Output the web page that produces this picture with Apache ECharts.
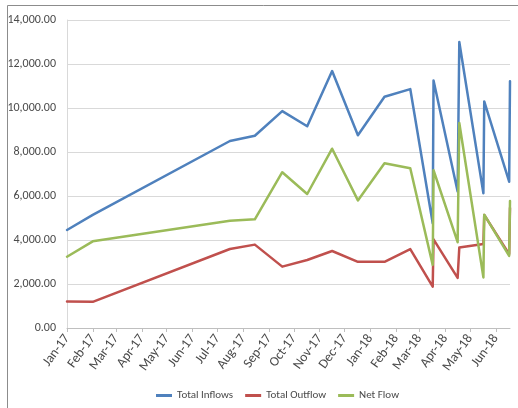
<!DOCTYPE html>
<html>
<head>
<meta charset="utf-8">
<script src="https://cdn.jsdelivr.net/npm/echarts@6/dist/echarts.min.js"></script>
<style>
  html, body { margin: 0; padding: 0; background: #ffffff; }
  #chart { width: 518px; height: 408px; }
</style>
</head>
<body>
<div id="chart"></div>
<script>
// Statement dates (one entry per reported balance)
var dates = [
  '2017-01-01', '2017-02-01', '2017-07-16', '2017-08-15', '2017-09-17',
  '2017-10-17', '2017-11-16', '2017-12-17', '2018-01-18', '2018-02-18',
  '2018-03-17', '2018-03-18', '2018-04-16', '2018-04-18', '2018-05-17',
  '2018-05-18', '2018-06-17', '2018-06-18'
];
var totalInflows = [
  4455, 5140, 8500, 8740, 9860, 9170, 11680, 8760, 10510, 10860,
  4760, 11250, 6200, 13000, 6120, 10300, 6650, 11220
];
var totalOutflow = [
  1200, 1190, 3590, 3790, 2790, 3090, 3500, 3010, 3010, 3590,
  1880, 4030, 2280, 3660, 3820, 5140, 3360, 5460
];
var netFlow = [
  3240, 3940, 4870, 4940, 7080, 6090, 8150, 5800, 7490, 7260,
  2870, 7170, 3900, 9320, 2300, 5150, 3280, 5770
];
// Month ticks on the date axis
var monthTicks = [
  '2017-01-01', '2017-02-01', '2017-03-01', '2017-04-01', '2017-05-01', '2017-06-01',
  '2017-07-01', '2017-08-01', '2017-09-01', '2017-10-01', '2017-11-01', '2017-12-01',
  '2018-01-01', '2018-02-01', '2018-03-01', '2018-04-01', '2018-05-01', '2018-06-01'
];
var monthLabels = [
  'Jan-17', 'Feb-17', 'Mar-17', 'Apr-17', 'May-17', 'Jun-17',
  'Jul-17', 'Aug-17', 'Sep-17', 'Oct-17', 'Nov-17', 'Dec-17',
  'Jan-18', 'Feb-18', 'Mar-18', 'Apr-18', 'May-18', 'Jun-18'
];
var yTicks = [0, 2000, 4000, 6000, 8000, 10000, 12000, 14000];

function ts(s) {
  var p = s.split('-');
  return Date.UTC(+p[0], +p[1] - 1, +p[2]);
}
var tickValues = monthTicks.map(ts);
var xs = dates.map(ts);
function pairs(vals) {
  return vals.map(function (v, i) { return [xs[i], v]; });
}

var FONT = "Carlito, 'Liberation Sans Narrow', 'Arial Narrow', 'Liberation Sans', sans-serif";
var TEXT = '#4a4a4a';

var chart = echarts.init(document.getElementById('chart'), null, { renderer: 'canvas' });
chart.setOption({
  animation: false,
  backgroundColor: '#ffffff',
  color: ['#4F81BD', '#C0504D', '#9BBB59'],
  graphic: [{
    type: 'rect',
    shape: { x: 7.5, y: 5.5, width: 520, height: 420 },
    style: { fill: 'none', stroke: '#8c8c8c', lineWidth: 1 },
    silent: true
  }],
  grid: {
    left: 67, right: 8, top: 20, bottom: 80,
    containLabel: false, outerBoundsMode: 'none'
  },
  legend: {
    top: 385,
    left: 151,
    icon: 'rect',
    itemWidth: 16,
    itemHeight: 3,
    itemGap: 12,
    textStyle: { fontFamily: FONT, fontSize: 11, color: TEXT },
    data: ['Total Inflows', 'Total Outflow', 'Net Flow']
  },
  xAxis: {
    type: 'value',
    min: tickValues[0],
    max: xs[xs.length - 1],
    splitLine: { show: false },
    axisLine: { show: true, lineStyle: { color: '#bfbfbf', width: 1 } },
    axisTick: {
      show: true, length: 4, inside: false,
      customValues: tickValues,
      lineStyle: { color: '#bfbfbf' }
    },
    axisLabel: {
      customValues: tickValues,
      rotate: 54,
      margin: 8,
      fontFamily: FONT,
      fontSize: 13.5,
      color: TEXT,
      formatter: function (v) {
        var i = tickValues.indexOf(v);
        return i >= 0 ? monthLabels[i] : '';
      }
    }
  },
  yAxis: {
    type: 'value',
    min: yTicks[0],
    max: yTicks[yTicks.length - 1],
    interval: yTicks[1] - yTicks[0],
    axisLine: { show: true, lineStyle: { color: '#d9d9d9' } },
    axisTick: { show: false },
    splitLine: { show: true, lineStyle: { color: '#d9d9d9', width: 1 } },
    axisLabel: {
      margin: 11,
      fontFamily: FONT,
      fontSize: 12,
      color: TEXT,
      formatter: function (v) {
        return v.toLocaleString('en-US', { minimumFractionDigits: 2, maximumFractionDigits: 2 });
      }
    }
  },
  series: [
    { name: 'Total Inflows', data: pairs(totalInflows) },
    { name: 'Total Outflow', data: pairs(totalOutflow) },
    { name: 'Net Flow', data: pairs(netFlow) }
  ].map(function (s) {
    return {
      name: s.name,
      type: 'line',
      data: s.data,
      showSymbol: false,
      symbol: 'none',
      lineStyle: { width: 2.5, join: 'round', cap: 'round' }
    };
  })
});
</script>
</body>
</html>
